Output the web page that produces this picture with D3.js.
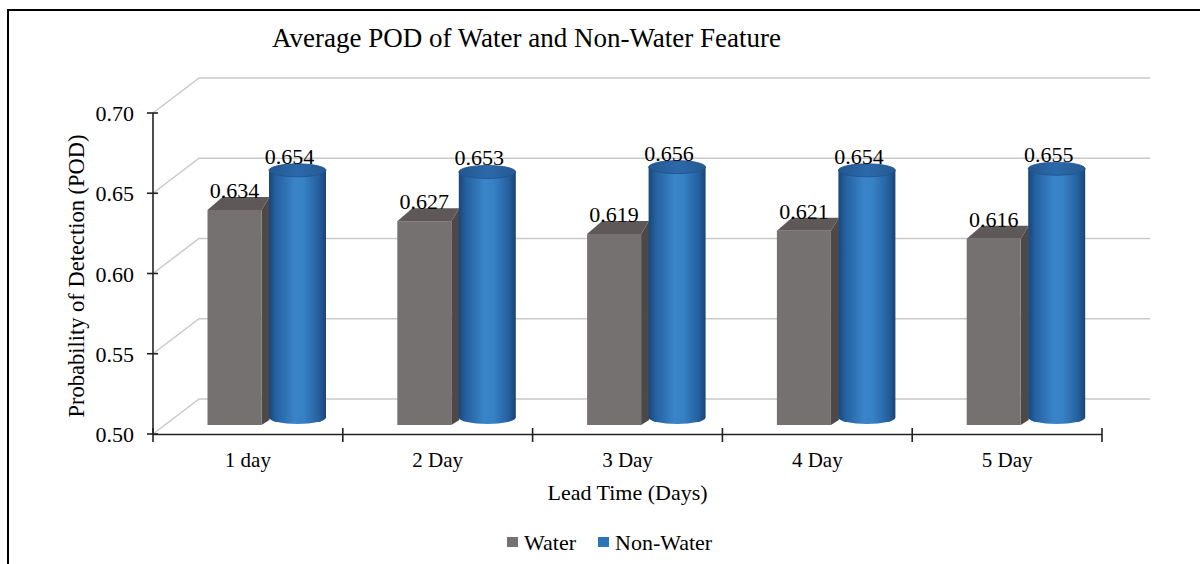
<!DOCTYPE html>
<html>
<head>
<meta charset="utf-8">
<script src="https://cdn.jsdelivr.net/npm/d3@7/dist/d3.min.js"></script>
<style>
  html, body { margin: 0; padding: 0; background: #fff; }
  svg { display: block; }
  text { font-family: "Liberation Serif", "Times New Roman", serif; fill: #000; }
</style>
</head>
<body>
<svg id="chart" width="1200" height="564"></svg>
<script>
// Chart data
const categories = ["1 day", "2 Day", "3 Day", "4 Day", "5 Day"];
const waterValues = [0.634, 0.627, 0.619, 0.621, 0.616];
const nonWaterValues = [0.654, 0.653, 0.656, 0.654, 0.655];
const yTicks = [0.50, 0.55, 0.60, 0.65, 0.70];
const seriesNames = ["Water", "Non-Water"];

const svg = d3.select("#chart");

// Outer frame
svg.append("rect")
  .attr("x", 8).attr("y", 10).attr("width", 1300).attr("height", 700)
  .attr("fill", "#fff").attr("stroke", "#000").attr("stroke-width", 2);

// Scales
const x = d3.scaleBand().domain(categories).range([153, 1102]).paddingInner(0).paddingOuter(0);
const yFront = d3.scaleLinear().domain([0.5, 0.7]).range([434, 113]);
const depth = { dx: 46, dy: -35 };     // back wall offset
const barShift = -9;                    // bars stand at mid depth
const yBar = v => yFront(v) + barShift;

// Gridlines: side diagonal + back wall line
const grid = svg.append("g").attr("stroke", "#c9c9c9").attr("stroke-width", 1.5).attr("fill", "none");
yTicks.forEach(t => {
  const y0 = yFront(t);
  grid.append("path")
    .attr("d", `M153,${y0} L${153 + depth.dx},${y0 + depth.dy} L1150,${y0 + depth.dy}`);
});

// Y axis
const axisG = svg.append("g").attr("stroke", "#222").attr("stroke-width", 1.6);
axisG.append("line").attr("x1", 153).attr("x2", 153).attr("y1", yFront(0.7)).attr("y2", yFront(0.5));
yTicks.forEach(t => {
  axisG.append("line").attr("x1", 147).attr("x2", 158).attr("y1", yFront(t)).attr("y2", yFront(t));
});
svg.append("g").selectAll("text").data(yTicks).join("text")
  .attr("x", 134).attr("y", d => yFront(d) + 8)
  .attr("text-anchor", "end").attr("font-size", 22)
  .text(d => d3.format(".2f")(d));

// X axis
const xAxisY = yFront(0.5) + 0.5;
axisG.append("line").attr("x1", 153).attr("x2", 1102).attr("y1", xAxisY).attr("y2", xAxisY);
const bounds = categories.map(c => x(c)).concat([x.range()[1]]);
bounds.forEach(b => {
  axisG.append("line").attr("x1", b).attr("x2", b).attr("y1", 428).attr("y2", 442);
});
svg.append("g").selectAll("text").data(categories).join("text")
  .attr("x", d => x(d) + x.bandwidth() / 2).attr("y", 467)
  .attr("text-anchor", "middle").attr("font-size", 21)
  .text(d => d);

// Gradient for cylinders
const defs = svg.append("defs");
const grad = defs.append("linearGradient").attr("id", "cyl").attr("x1", "0%").attr("x2", "100%");
[["0%", "#1a4676"], ["12%", "#24609f"], ["45%", "#3a84c9"], ["62%", "#3680c4"], ["88%", "#245f9e"], ["100%", "#1a4473"]]
  .forEach(([o, c]) => grad.append("stop").attr("offset", o).attr("stop-color", c));
const topGrad = defs.append("linearGradient").attr("id", "cyltop").attr("x1", "0%").attr("x2", "100%");
[["0%", "#23578f"], ["50%", "#2c69aa"], ["100%", "#245a93"]]
  .forEach(([o, c]) => topGrad.append("stop").attr("offset", o).attr("stop-color", c));

// Water boxes
const boxes = svg.append("g");
categories.forEach((c, i) => {
  const v = waterValues[i];
  const x0 = x(c) + 54.5, x1 = x0 + 54;
  const yT = yBar(v), yB = yBar(0.5);
  const g = boxes.append("g");
  g.append("polygon")
    .attr("points", `${x1},${yT} ${x1 + 8},${yT - 13} ${x1 + 8},${yB - 5} ${x1},${yB}`)
    .attr("fill", "#4e4948");
  g.append("polygon")
    .attr("points", `${x0},${yT} ${x1},${yT} ${x1 + 8},${yT - 13} ${x0 + 15},${yT - 13}`)
    .attr("fill", "#5e5958");
  g.append("rect")
    .attr("x", x0).attr("y", yT).attr("width", x1 - x0).attr("height", yB - yT)
    .attr("fill", "#767171");
  g.append("text")
    .attr("x", x0 + 27).attr("y", yT - 12)
    .attr("text-anchor", "middle").attr("font-size", 22)
    .text(d3.format(".3f")(v));
});

// Non-Water cylinders
const cyls = svg.append("g");
const rx = 28.5, ry = 6.5;
categories.forEach((c, i) => {
  const v = nonWaterValues[i];
  const cx = x(c) + 144.5;
  const topC = yBar(v) - 7.5, botC = yBar(0.5) - 7.5;
  const g = cyls.append("g");
  g.append("path")
    .attr("d", `M${cx - rx},${topC} L${cx - rx},${botC} A${rx},${ry} 0 0 0 ${cx + rx},${botC} L${cx + rx},${topC} Z`)
    .attr("fill", "url(#cyl)");
  g.append("ellipse")
    .attr("cx", cx).attr("cy", topC).attr("rx", rx).attr("ry", ry)
    .attr("fill", "url(#cyltop)").attr("stroke", "#1f5089").attr("stroke-width", 0.8);
  g.append("text")
    .attr("x", cx - 8).attr("y", yBar(v) - 14)
    .attr("text-anchor", "middle").attr("font-size", 22)
    .text(d3.format(".3f")(v));
});

// Titles
svg.append("text")
  .attr("x", 272).attr("y", 47).attr("font-size", 27)
  .text("Average POD of Water and Non-Water Feature");
svg.append("text")
  .attr("transform", "translate(84,276) rotate(-90)")
  .attr("text-anchor", "middle").attr("font-size", 22.5)
  .text("Probability of Detection (POD)");
svg.append("text")
  .attr("x", (x.range()[0] + x.range()[1]) / 2).attr("y", 500)
  .attr("text-anchor", "middle").attr("font-size", 22)
  .text("Lead Time (Days)");

// Legend
const legendColors = ["#767171", "#2e75b6"];
const legendX = [507, 598];
const legend = svg.append("g");
seriesNames.forEach((name, i) => {
  legend.append("rect")
    .attr("x", legendX[i]).attr("y", 537).attr("width", 11).attr("height", 10)
    .attr("fill", legendColors[i]);
  legend.append("text")
    .attr("x", legendX[i] + 17).attr("y", 550).attr("font-size", 22)
    .text(name);
});
</script>
</body>
</html>
